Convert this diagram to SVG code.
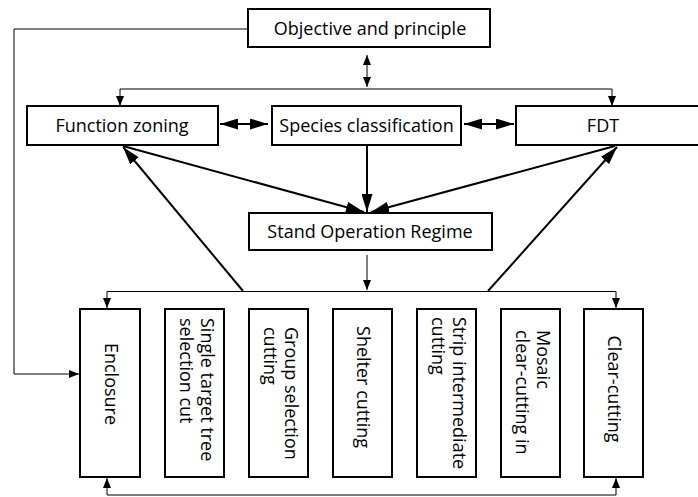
<svg xmlns="http://www.w3.org/2000/svg" width="698" height="497" viewBox="0 0 698 497">
<defs>
<style>
.box{fill:#fff;stroke:#000;stroke-width:2}
.t{font-family:"Open Sans","Noto Sans","DejaVu Sans",sans-serif;font-size:18px;fill:#000}
.c{text-anchor:middle}
.thin{fill:none;stroke:#000;stroke-width:1}
.thick{fill:none;stroke:#000;stroke-width:2}
</style>
<marker id="sa" viewBox="0 0 10 8" refX="10" refY="4" markerWidth="10" markerHeight="8" markerUnits="userSpaceOnUse" orient="auto-start-reverse"><path d="M0,0 L10,4 L0,8 Z" fill="#000"/></marker>
<marker id="ba" viewBox="0 0 18 11" refX="18" refY="5.5" markerWidth="18" markerHeight="11" markerUnits="userSpaceOnUse" orient="auto-start-reverse"><path d="M0,0 L18,5.5 L0,11 Z" fill="#000"/></marker>
</defs>
<rect width="698" height="497" fill="#fff"/>
<g id="connectors">
<path class="thin" d="M248,29 H14 V374 H79" marker-end="url(#sa)"/>
<path class="thin" d="M367,55 V87" marker-start="url(#sa)" marker-end="url(#sa)"/>
<path class="thin" d="M120,106 V89 H612 V106" marker-start="url(#sa)" marker-end="url(#sa)"/>
<path class="thick" d="M220,124 H268" marker-start="url(#ba)" marker-end="url(#ba)"/>
<path class="thick" d="M464,124 H514" marker-start="url(#ba)" marker-end="url(#ba)"/>
<path class="thick" d="M123,146 L364,212" marker-end="url(#ba)"/>
<path class="thick" d="M367,146 V212" marker-end="url(#ba)"/>
<path class="thick" d="M615,146 L371,212" marker-end="url(#ba)"/>
<path class="thick" d="M243,291 L123,147" marker-end="url(#ba)"/>
<path class="thick" d="M488,291 L617,147" marker-end="url(#ba)"/>
<path class="thin" d="M367,255 V290" marker-end="url(#sa)"/>
<path class="thin" d="M107,308 V291.5 H616 V308" marker-start="url(#sa)" marker-end="url(#sa)"/>
<path class="thin" d="M107,478 V495 H616 V478" marker-start="url(#sa)" marker-end="url(#sa)"/>
</g>
<g id="objective"><rect class="box" x="248" y="9" width="242" height="38"/><text class="t c" x="370" y="34.5">Objective and principle</text></g>
<g id="function-zoning"><rect class="box" x="27" y="106" width="191" height="39"/><text class="t c" x="122" y="131.5">Function zoning</text></g>
<g id="species"><rect class="box" x="272" y="106" width="189" height="39"/><text class="t c" x="366.5" y="131.5">Species classification</text></g>
<g id="fdt"><rect class="box" x="516" y="106" width="190" height="39"/><text class="t c" x="603" y="131.5">FDT</text></g>
<g id="sor"><rect class="box" x="249" y="213" width="243" height="37"/><text class="t c" x="370" y="238">Stand Operation Regime</text></g>
<g id="enclosure"><rect class="box" x="80" y="309" width="60" height="168"/><text class="t c" transform="translate(110,0) rotate(90)" x="384" y="5.5">Enclosure</text></g>
<g id="single"><rect class="box" x="165" y="309" width="59" height="168"/><text class="t" transform="translate(194.5,0) rotate(90)"><tspan x="318" y="-6.5">Single target tree</tspan><tspan x="318" y="15">selection cut</tspan></text></g>
<g id="group"><rect class="box" x="249" y="309" width="59" height="168"/><text class="t" transform="translate(278.5,0) rotate(90)"><tspan x="327" y="-6.5">Group selection</tspan><tspan x="327" y="15">cutting</tspan></text></g>
<g id="shelter"><rect class="box" x="333" y="309" width="59" height="168"/><text class="t c" transform="translate(362.5,0) rotate(90)" x="387" y="5.5">Shelter cutting</text></g>
<g id="strip"><rect class="box" x="417" y="309" width="59" height="168"/><text class="t" transform="translate(446.5,0) rotate(90)"><tspan x="317" y="-6.5">Strip intermediate</tspan><tspan x="317" y="15">cutting</tspan></text></g>
<g id="mosaic"><rect class="box" x="501" y="309" width="59" height="168"/><text class="t" transform="translate(530.5,0) rotate(90)"><tspan x="330" y="-6.5">Mosaic</tspan><tspan x="330" y="15">clear-cutting in</tspan></text></g>
<g id="clear"><rect class="box" x="584" y="309" width="59" height="168"/><text class="t c" transform="translate(613.5,0) rotate(90)" x="389" y="5.5">Clear-cutting</text></g>
</svg>
